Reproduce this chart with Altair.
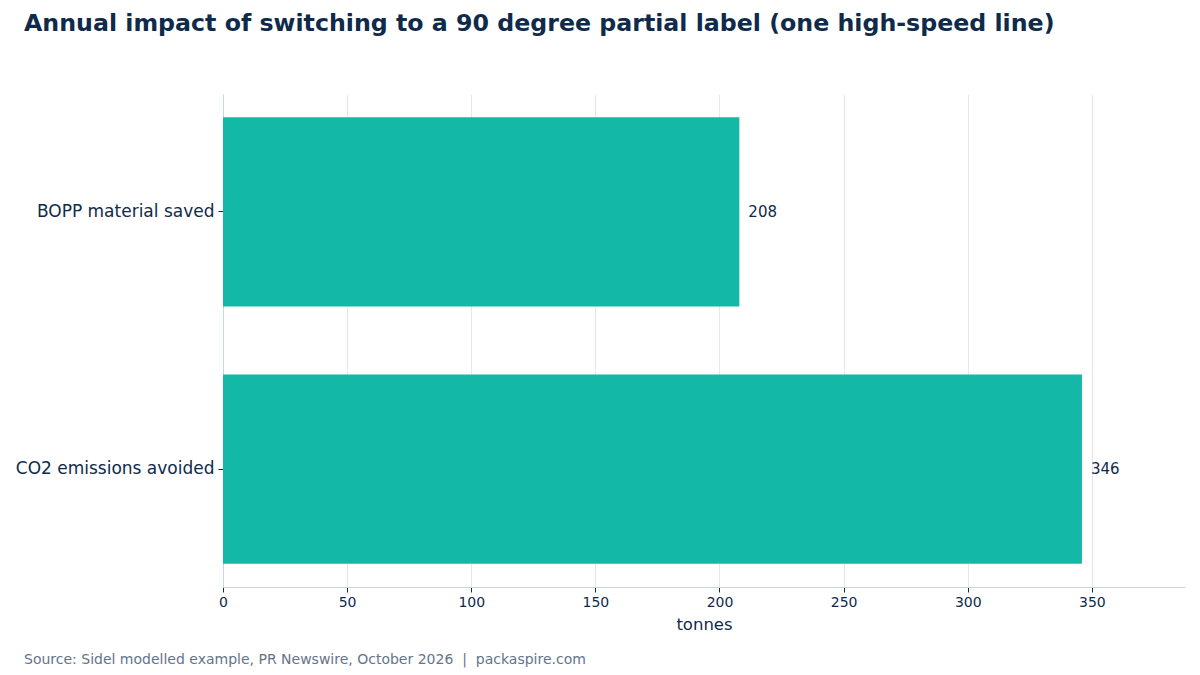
import altair as alt
import pandas as pd

categories = ["BOPP material saved", "CO2 emissions avoided"]
values = [208, 346]
x_ticks = [0, 50, 100, 150, 200, 250, 300, 350]

title_text = "Annual impact of switching to a 90 degree partial label (one high-speed line)"
source_text = "Source: Sidel modelled example, PR Newswire, October 2026\u00a0\u00a0|\u00a0\u00a0packaspire.com"

df = pd.DataFrame({"category": categories, "value": values})

NAVY = "#0f2a4a"
TEAL = "#14b8a6"
FONT = "DejaVu Sans"

W, H = 962, 493
LEFT, TOP = 223, 94

xscale = alt.Scale(domain=[0, 346 * 1.12], nice=False, zero=True)
yscale = alt.Scale(domain=categories, paddingInner=0.264, paddingOuter=0.09)

base = alt.Chart(df)

bars = base.mark_bar(color=TEAL).encode(
    x=alt.X("value:Q", scale=xscale,
            axis=alt.Axis(values=x_ticks, title="tonnes", grid=True, gridColor="#e2e8f0",
                          domainColor="#cbd5e1", tickColor=NAVY, tickSize=5,
                          labelColor=NAVY, labelFontSize=14, labelFont=FONT, labelPadding=3,
                          labelFlush=False,
                          titleColor=NAVY, titleFontSize=16.5, titleFont=FONT, titleFontWeight="normal",
                          titlePadding=7)),
    y=alt.Y("category:N", scale=yscale, sort=categories,
            axis=alt.Axis(title=None, domainColor="#cbd5e1", tickColor=NAVY, tickSize=5,
                          labelColor=NAVY, labelFontSize=17, labelFont=FONT, labelPadding=4,
                          labelLimit=400, grid=False)),
)

labels = base.mark_text(align="left", baseline="middle", dx=9, fontSize=15, font=FONT, color=NAVY).encode(
    x=alt.X("value:Q", scale=xscale),
    y=alt.Y("category:N", scale=yscale, sort=categories),
    text=alt.Text("value:Q", format="d"),
)

title = alt.Chart(pd.DataFrame({"t": [title_text]})).mark_text(
    align="left", baseline="middle", fontSize=23.7, fontWeight="bold", font=FONT, color=NAVY
).encode(x=alt.value(24 - LEFT), y=alt.value(24 - TOP), text="t:N")

source = alt.Chart(pd.DataFrame({"t": [source_text]})).mark_text(
    align="left", baseline="middle", fontSize=14, font=FONT, color="#64748b"
).encode(x=alt.value(24 - LEFT), y=alt.value(660 - TOP), text="t:N")

chart = alt.layer(bars, labels, title, source).properties(
    width=W, height=H,
    background="white",
    autosize=alt.AutoSizeParams(type="none"),
    padding={"left": LEFT, "top": TOP, "right": 1200 - LEFT - W, "bottom": 675 - TOP - H},
).configure_view(stroke=None)

chart.save("out.html", embed_options={"renderer": "svg", "actions": False})
